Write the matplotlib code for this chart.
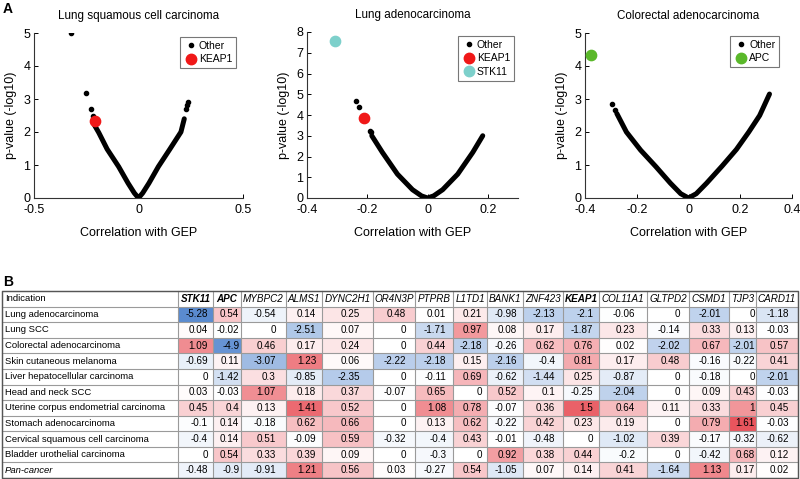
import matplotlib
matplotlib.use("Agg")
import matplotlib.pyplot as plt
from matplotlib.patches import Rectangle
from matplotlib.lines import Line2D

plt.rcParams["font.family"] = ["Liberation Sans", "DejaVu Sans"]
plt.rcParams["axes.unicode_minus"] = False

# ---- panel A data ----
titles = ["Lung squamous cell carcinoma", "Lung adenocarcinoma", "Colorectal adenocarcinoma"]

scc_curve_x = [-0.21, -0.19, -0.15, -0.095, -0.05, -0.02, 0, 0.02, 0.05, 0.095, 0.15, 0.203, 0.219]
scc_curve_y = [2.2, 1.98, 1.48, 0.95, 0.45, 0.15, 0, 0.15, 0.45, 0.95, 1.48, 2.0, 2.4]
scc_other_x = [-0.322, -0.249, -0.229, -0.217, 0.227, 0.233, 0.238]
scc_other_y = [5.0, 3.17, 2.71, 2.49, 2.7, 2.82, 2.9]
scc_genes = ["KEAP1"]
scc_gene_x = [-0.206]
scc_gene_y = [2.34]

luad_curve_x = [-0.185, -0.15, -0.1, -0.05, -0.02, 0, 0.02, 0.05, 0.1, 0.15, 0.183]
luad_curve_y = [3.0, 2.2, 1.15, 0.4, 0.1, 0, 0.1, 0.4, 1.15, 2.2, 3.0]
luad_other_x = [-0.238, -0.229, -0.192, -0.189]
luad_other_y = [4.69, 4.4, 3.24, 3.16]
luad_genes = ["KEAP1", "STK11"]
luad_gene_x = [-0.21, -0.306]
luad_gene_y = [3.84, 7.56]

crc_curve_x = [-0.277, -0.24, -0.185, -0.126, -0.07, -0.03, 0, 0.03, 0.07, 0.13, 0.185, 0.233, 0.275, 0.313]
crc_curve_y = [2.56, 2.0, 1.45, 0.95, 0.45, 0.13, 0, 0.13, 0.45, 0.97, 1.47, 2.0, 2.5, 3.15]
crc_other_x = [-0.296, -0.283]
crc_other_y = [2.84, 2.66]
crc_genes = ["APC"]
crc_gene_x = [-0.376]
crc_gene_y = [4.32]

gene_colors = {"KEAP1": "#f01818", "STK11": "#7dd0cb", "APC": "#5ab82a"}

# ---- panel B data ----
indications = ["Lung adenocarcinoma", "Lung SCC", "Colorectal adenocarcinoma",
               "Skin cutaneous melanoma", "Liver hepatocellular carcinoma",
               "Head and neck SCC", "Uterine corpus endometrial carcinoma",
               "Stomach adenocarcinoma", "Cervical squamous cell carcinoma",
               "Bladder urothelial carcinoma", "Pan-cancer"]
genes = ["STK11", "APC", "MYBPC2", "ALMS1", "DYNC2H1", "OR4N3P", "PTPRB", "L1TD1",
         "BANK1", "ZNF423", "KEAP1", "COL11A1", "GLTPD2", "CSMD1", "TJP3", "CARD11"]
bold_genes = ["STK11", "APC", "KEAP1"]
values = [
    [-5.28, 0.54, -0.54, 0.14, 0.25, 0.48, 0.01, 0.21, -0.98, -2.13, -2.1, -0.06, 0, -2.01, 0, -1.18],
    [0.04, -0.02, 0, -2.51, 0.07, 0, -1.71, 0.97, 0.08, 0.17, -1.87, 0.23, -0.14, 0.33, 0.13, -0.03],
    [1.09, -4.9, 0.46, 0.17, 0.24, 0, 0.44, -2.18, -0.26, 0.62, 0.76, 0.02, -2.02, 0.67, -2.01, 0.57],
    [-0.69, 0.11, -3.07, 1.23, 0.06, -2.22, -2.18, 0.15, -2.16, -0.4, 0.81, 0.17, 0.48, -0.16, -0.22, 0.41],
    [0, -1.42, 0.3, -0.85, -2.35, 0, -0.11, 0.69, -0.62, -1.44, 0.25, -0.87, 0, -0.18, 0, -2.01],
    [0.03, -0.03, 1.07, 0.18, 0.37, -0.07, 0.65, 0, 0.52, 0.1, -0.25, -2.04, 0, 0.09, 0.43, -0.03],
    [0.45, 0.4, 0.13, 1.41, 0.52, 0, 1.08, 0.78, -0.07, 0.36, 1.5, 0.64, 0.11, 0.33, 1, 0.45],
    [-0.1, 0.14, -0.18, 0.62, 0.66, 0, 0.13, 0.62, -0.22, 0.42, 0.23, 0.19, 0, 0.79, 1.61, -0.03],
    [-0.4, 0.14, 0.51, -0.09, 0.59, -0.32, -0.4, 0.43, -0.01, -0.48, 0, -1.02, 0.39, -0.17, -0.32, -0.62],
    [0, 0.54, 0.33, 0.39, 0.09, 0, -0.3, 0, 0.92, 0.38, 0.44, -0.2, 0, -0.42, 0.68, 0.12],
    [-0.48, -0.9, -0.91, 1.21, 0.56, 0.03, -0.27, 0.54, -1.05, 0.07, 0.14, 0.41, -1.64, 1.13, 0.17, 0.02],
]

W, H = 800, 479
fig = plt.figure(figsize=(W / 100, H / 100), dpi=100)


def px_axes(left, top, right, bottom):
    return fig.add_axes([left / W, 1 - bottom / H, (right - left) / W, (bottom - top) / H])


panels = [
    (scc_curve_x, scc_curve_y, scc_other_x, scc_other_y, scc_genes, scc_gene_x, scc_gene_y),
    (luad_curve_x, luad_curve_y, luad_other_x, luad_other_y, luad_genes, luad_gene_x, luad_gene_y),
    (crc_curve_x, crc_curve_y, crc_other_x, crc_other_y, crc_genes, crc_gene_x, crc_gene_y),
]
boxes = [(34, 33, 243, 198), (307, 32, 518, 198), (585, 33, 792, 198)]
xlims = [(-0.5, 0.5), (-0.4, 0.3), (-0.4, 0.4)]
ylims = [(0, 5), (0, 8), (0, 5)]
xticks = [[-0.5, 0, 0.5], [-0.4, -0.2, 0, 0.2], [-0.4, -0.2, 0, 0.2, 0.4]]
legend_anchor = [(236, 37), (514, 36), (779, 36)]

for i, (cx, cy, ox, oy, gn, gx, gy) in enumerate(panels):
    ax = px_axes(*boxes[i])
    ax.plot(cx, cy, color="black", lw=3.6, solid_capstyle="round", solid_joinstyle="round", zorder=2)
    ax.scatter(ox, oy, s=9, color="black", zorder=3)
    for name, x, y in zip(gn, gx, gy):
        ax.scatter([x], [y], s=55, color=gene_colors[name], zorder=4)
    ax.set_xlim(*xlims[i])
    ax.set_ylim(*ylims[i])
    ax.set_xticks(xticks[i])
    ax.set_xticklabels([("%g" % t) for t in xticks[i]])
    yt = list(range(ylims[i][0], ylims[i][1] + 1))
    ax.set_yticks(yt)
    ax.spines["top"].set_visible(False)
    ax.spines["right"].set_visible(False)
    for s in ("left", "bottom"):
        ax.spines[s].set_linewidth(0.8)
        ax.spines[s].set_color("#333333")
    ax.tick_params(direction="in", length=3, width=0.7, labelsize=9, pad=2.5)
    ax.tick_params(axis="x", pad=4.5)
    ax.set_title(titles[i], fontsize=8.4, pad=10)
    ax.set_xlabel("Correlation with GEP", fontsize=9, labelpad=8)
    ax.set_ylabel("p-value (-log10)", fontsize=9, labelpad=5)
    handles = [Line2D([], [], ls="", marker="o", ms=3, color="black")]
    labels = ["Other"]
    for name in gn:
        handles.append(Line2D([], [], ls="", marker="o", ms=7.5, color=gene_colors[name]))
        labels.append(name)
    lx, ly = legend_anchor[i]
    leg = ax.legend(handles, labels, loc="upper right", bbox_to_anchor=(lx / W, 1 - ly / H),
                    bbox_transform=fig.transFigure, borderaxespad=0, fontsize=7.5, frameon=True,
                    fancybox=False, handletextpad=0.1, handlelength=1.4, borderpad=0.35,
                    labelspacing=0.35)
    leg.get_frame().set_edgecolor("#555555")
    leg.get_frame().set_linewidth(0.8)

fig.text(3 / W, 1 - 9 / H, "A", fontsize=10, fontweight="bold", va="center")
fig.text(3 / W, 1 - 282 / H, "B", fontsize=10, fontweight="bold", va="center")

# ---- panel B table ----
tab = fig.add_axes([0, 0, 1, 1])
tab.set_xlim(0, W)
tab.set_ylim(H, 0)
tab.axis("off")

col_edges = [2, 178, 213, 241, 286, 322, 373, 415, 453, 487, 523, 563, 599, 647, 689, 729, 756, 798]
top, bottom = 291, 478
n_rows = len(indications) + 1
row_h = (bottom - top) / n_rows
fs = 7.1
fs_label = 6.8
em = fs * 100 / 72


def cell_color(v):
    if v >= 0:
        f = min(v / 1.68, 1.0)
        end = (232, 78, 86)
    else:
        f = min(-v / 5.4, 1.0)
        end = (86, 136, 206)
    return tuple((255 + (e - 255) * f) / 255 for e in end)


def fmt(v):
    return "%g" % v


def text_w(s):
    w = 0
    for ch in s:
        w += {"-": 0.333, ".": 0.278}.get(ch, 0.556)
    return w * em


# header
tab.text(col_edges[0] + 3, top + row_h / 2, "Indication", fontsize=fs_label, va="center", ha="left")
for j, g in enumerate(genes):
    cxm = (col_edges[j + 1] + col_edges[j + 2]) / 2
    tab.text(cxm, top + row_h / 2, g, fontsize=fs, va="center", ha="center", style="italic",
             fontweight="bold" if g in bold_genes else "normal")

for i, name in enumerate(indications):
    y0 = top + (i + 1) * row_h
    tab.text(col_edges[0] + 3, y0 + row_h / 2, name, fontsize=fs_label, va="center", ha="left",
             style="italic" if name == "Pan-cancer" else "normal")

for j, g in enumerate(genes):
    x0, x1 = col_edges[j + 1], col_edges[j + 2]
    maxw = max(text_w(fmt(row[j])) for row in values)
    xr = (x0 + x1) / 2 + maxw / 2 + 1
    for i, row in enumerate(values):
        v = row[j]
        y0 = top + (i + 1) * row_h
        tab.add_patch(Rectangle((x0, y0), x1 - x0, row_h, facecolor=cell_color(v), edgecolor="none", zorder=1))
        tab.text(xr, y0 + row_h / 2, fmt(v), fontsize=fs, va="center", ha="right", zorder=3)

for k in range(n_rows + 1):
    y = top + k * row_h
    tab.plot([col_edges[0], col_edges[-1]], [y, y], color="#9a9a9a", lw=0.8, zorder=2)
for x in col_edges:
    tab.plot([x, x], [top, bottom], color="#9a9a9a", lw=0.8, zorder=2)
tab.add_patch(Rectangle((col_edges[0], top), col_edges[-1] - col_edges[0], bottom - top,
                        facecolor="none", edgecolor="#555555", lw=1.0, zorder=4))

fig.savefig("out.png", dpi=100)
